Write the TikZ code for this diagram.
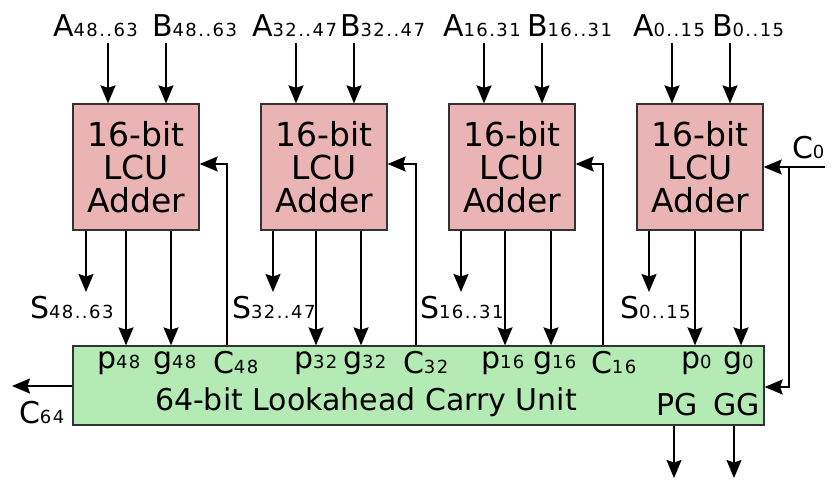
\documentclass[tikz,border=0pt]{standalone}
\usepackage{fontspec}
\setmainfont{DejaVu Sans}
\usetikzlibrary{arrows.meta}
\definecolor{adderpink}{HTML}{EAB4B4}
\definecolor{lcugreen}{HTML}{B4EAB4}
\definecolor{edgegray}{HTML}{333333}
\newcommand\smallidx[1]{{\fontsize{18}{18}\selectfont\addfontfeature{LetterSpace=8}#1}}
\newcommand\lab[2]{{\fontsize{30}{30}\selectfont #1}\smallidx{#2}}
\begin{document}
\begin{tikzpicture}[x=1pt,y=-1pt,
  arr/.style={line width=1.7pt,-{Stealth[length=18pt,width=15pt,inset=2.5pt]}},
  adder/.style={draw=edgegray,line width=1.3pt,fill=adderpink,minimum width=126pt,minimum height=126pt,inner sep=0pt,align=center,font=\fontsize{33}{33}\selectfont},
  lcubox/.style={draw=edgegray,line width=1.3pt,fill=lcugreen,minimum width=691pt,minimum height=79pt,inner sep=0pt},
  txt/.style={anchor=base west,inner sep=0pt,outer sep=0pt},
  big/.style={font=\fontsize{30}{30}\selectfont}]
\useasboundingbox (0,0) rectangle (840,503);

% blocks
\node[adder] (add1) at (136,167) {16-bit\\LCU\\Adder};
\node[adder] (add2) at (324,167) {16-bit\\LCU\\Adder};
\node[adder] (add3) at (512,167) {16-bit\\LCU\\Adder};
\node[adder] (add4) at (700,167) {16-bit\\LCU\\Adder};
\node[lcubox] (lcu) at (418.5,385.5) {};

% top labels
\node[txt] (la1) at (53,37) {\lab{A}{48..63}};
\node[txt] (lb1) at (152,37) {\lab{B}{48..63}};
\node[txt] (la2) at (252,37) {\lab{A}{32..47}};
\node[txt] (lb2) at (340,37) {\lab{B}{32..47}};
\node[txt] (la3) at (443,37) {\lab{A}{16.31}};
\node[txt] (lb3) at (527,37) {\lab{B}{16..31}};
\node[txt] (la4) at (633,37) {\lab{A}{0..15}};
\node[txt] (lb4) at (712,37) {\lab{B}{0..15}};

% sum labels
\node[txt] (ls1) at (30,318) {\lab{S}{48..63}};
\node[txt] (ls2) at (232,318) {\lab{S}{32..47}};
\node[txt] (ls3) at (420,318) {\lab{S}{16..31}};
\node[txt] (ls4) at (620,318) {\lab{S}{0..15}};

% LCU labels
\node[txt] (lp1) at (97,368) {\lab{p}{48}};
\node[txt] (lg1) at (153,368) {\lab{g}{48}};
\node[txt] (lc1) at (213,373) {\lab{C}{48}};
\node[txt] (lp2) at (294,368) {\lab{p}{32}};
\node[txt] (lg2) at (343,368) {\lab{g}{32}};
\node[txt] (lc2) at (403,373) {\lab{C}{32}};
\node[txt] (lp3) at (481,368) {\lab{p}{16}};
\node[txt] (lg3) at (533,368) {\lab{g}{16}};
\node[txt] (lc3) at (591,373) {\lab{C}{16}};
\node[txt] (lp4) at (681,368) {\lab{p}{0}};
\node[txt] (lg4) at (723,368) {\lab{g}{0}};
\node[txt,big] (ltitle) at (155,410) {64-bit Lookahead Carry Unit};
\node[txt,big] (lpg) at (656,415) {PG};
\node[txt,big] (lgg) at (713,415) {GG};
\node[txt] (lc64) at (19,423) {\lab{C}{64}};
\node[txt] (lc0) at (792,158) {\lab{C}{0}};

% coordinates
\coordinate (a1) at (108,43); \coordinate (b1) at (166,43);
\coordinate (a2) at (296,43); \coordinate (b2) at (354,43);
\coordinate (a3) at (484,43); \coordinate (b3) at (542,43);
\coordinate (a4) at (672,43); \coordinate (b4) at (730,43);
\coordinate (s1) at (86,292);  \coordinate (s2) at (273,292);
\coordinate (s3) at (461,292); \coordinate (s4) at (649,292);
\coordinate (p1) at (126,0); \coordinate (g1) at (171,0);
\coordinate (p2) at (316,0); \coordinate (g2) at (361,0);
\coordinate (p3) at (505,0); \coordinate (g3) at (551,0);
\coordinate (p4) at (695,0); \coordinate (g4) at (741,0);
\coordinate (k1) at (227,0); \coordinate (k2) at (416,0); \coordinate (k3) at (603,0);
\coordinate (cin) at (825,167);
\coordinate (cbr) at (789,167);
\coordinate (cout) at (12,386);
\coordinate (pgend) at (674,478);
\coordinate (ggend) at (734,478);

% inputs and outputs of the adders
\foreach \i in {1,2,3,4}{
  \draw[arr] (a\i) -- (add\i.north -| a\i);
  \draw[arr] (b\i) -- (add\i.north -| b\i);
  \draw[arr] (add\i.south -| s\i) -- (s\i);
  \draw[arr] (add\i.south -| p\i) -- (lcu.north -| p\i);
  \draw[arr] (add\i.south -| g\i) -- (lcu.north -| g\i);
}
% carries
\draw[arr] (lcu.north -| k1) |- ([yshift=3pt]add1.east);
\draw[arr] (lcu.north -| k2) |- ([yshift=3pt]add2.east);
\draw[arr] (lcu.north -| k3) |- ([yshift=3pt]add3.east);
\draw[arr] (cin) -- (add4.east);
\draw[arr] (cbr) |- ([yshift=-1.5pt]lcu.east);
\draw[arr] (lcu.west |- cout) -- (cout);
\draw[arr] (lcu.south -| pgend) -- (pgend);
\draw[arr] (lcu.south -| ggend) -- (ggend);
\end{tikzpicture}
\end{document}
